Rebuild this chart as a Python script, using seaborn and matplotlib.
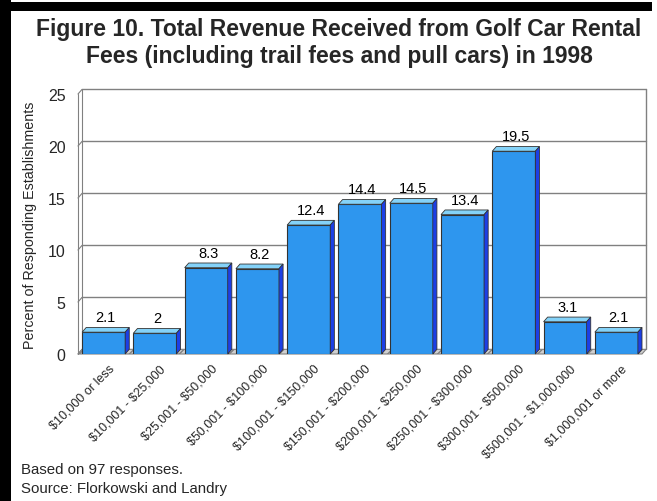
import matplotlib
matplotlib.use("Agg")
import matplotlib.pyplot as plt
from matplotlib.patches import Polygon, Rectangle
from matplotlib.transforms import ScaledTranslation
import seaborn as sns
import pandas as pd

categories = [
    "$10,000 or less", "$10,001 - $25,000", "$25,001 - $50,000",
    "$50,001 - $100,000", "$100,001 - $150,000", "$150,001 - $200,000",
    "$200,001 - $250,000", "$250,001 - $300,000", "$300,001 - $500,000",
    "$500,001 - $1,000,000", "$1,000,001 or more",
]
percents = [2.1, 2, 8.3, 8.2, 12.4, 14.4, 14.5, 13.4, 19.5, 3.1, 2.1]
value_labels = ["2.1", "2", "8.3", "8.2", "12.4", "14.4", "14.5", "13.4", "19.5", "3.1", "2.1"]
y_ticks = [0, 5, 10, 15, 20, 25]

df = pd.DataFrame({"range": categories, "pct": percents})

sns.set_style("white")
plt.rcParams["font.family"] = ["Liberation Sans", "DejaVu Sans"]
plt.rcParams["text.parse_math"] = False

W, H = 657, 502
fig = plt.figure(figsize=(W / 100, H / 100), dpi=100)
fig.patch.set_facecolor("white")

# frame bands along the top and left edges
fig.add_artist(Rectangle((0, 1 - 12 / H), 652 / W, 9 / H, transform=fig.transFigure,
                         facecolor="black", edgecolor="none"))
fig.add_artist(Rectangle((0, 0), 11 / W, 1, transform=fig.transFigure,
                         facecolor="black", edgecolor="none"))

ax_l, ax_r, ax_b, ax_t = 78, 642, 355, 95
ax = fig.add_axes([ax_l / W, 1 - ax_b / H, (ax_r - ax_l) / W, (ax_b - ax_t) / H])

front = "#2e96ee"
top_c = "#84d2f8"
side_c = "#1c3fe6"
edge = "#333333"

sns.barplot(data=df, x="range", y="pct", color=front, width=0.84, saturation=1,
            edgecolor=edge, linewidth=0.8, ax=ax, zorder=3)

ax.set_xlim(-0.5, 10.5)
ax.set_ylim(0, 25)

# depth offset of the 3-D look, in data units
dx, dy = 0.08, 0.45
grid_c = "#808080"

# back wall, floor and side wall
ax.plot([-0.5 + dx, 10.5 + dx], [25 + dy, 25 + dy], color=grid_c, lw=1, clip_on=False, zorder=1)
for t in y_ticks[1:-1]:
    ax.plot([-0.5 + dx, 10.5 + dx], [t + dy, t + dy], color=grid_c, lw=1, clip_on=False, zorder=1)
for t in y_ticks:
    ax.plot([-0.5, -0.5 + dx], [t, t + dy], color=grid_c, lw=0.8, clip_on=False, zorder=1)
ax.plot([10.5 + dx, 10.5 + dx], [dy, 25 + dy], color=grid_c, lw=1, clip_on=False, zorder=1)
ax.plot([-0.5 + dx, -0.5 + dx], [dy, 25 + dy], color=grid_c, lw=0.8, clip_on=False, zorder=1)
ax.plot([-0.5, -0.5], [0, 25], color=grid_c, lw=0.8, clip_on=False, zorder=1)
ax.add_patch(Polygon([(-0.5, 0), (10.5, 0), (10.5 + dx, dy), (-0.5 + dx, dy)],
                     closed=True, facecolor="#d0d0d0", edgecolor=grid_c, lw=0.8,
                     hatch="////", clip_on=False, zorder=2))

# top and side faces of each bar
for p, lab in zip(ax.patches, value_labels):
    x0 = p.get_x()
    w = p.get_width()
    h = p.get_height()
    x1 = x0 + w
    ax.add_patch(Polygon([(x0, h), (x1, h), (x1 + dx, h + dy), (x0 + dx, h + dy)],
                         closed=True, facecolor=top_c, edgecolor=edge, lw=0.6,
                         clip_on=False, zorder=4))
    ax.add_patch(Polygon([(x1, 0), (x1 + dx, dy), (x1 + dx, h + dy), (x1, h)],
                         closed=True, facecolor=side_c, edgecolor=edge, lw=0.6,
                         clip_on=False, zorder=4))
    ax.text(x0 + w / 2 + dx / 2, h + dy + 0.3, lab, ha="center", va="bottom",
            fontsize=10.5, color="black", zorder=5)

for s in ax.spines.values():
    s.set_visible(False)

ax.set_yticks(y_ticks)
ax.set_yticklabels([str(t) for t in y_ticks], fontsize=11.5)
ax.tick_params(axis="y", length=0, pad=9)
ax.tick_params(axis="x", length=0, pad=9)
ax.set_xticks(range(len(categories)))
ax.set_xticklabels(categories, rotation=45, ha="right", va="center",
                   rotation_mode="anchor", fontsize=9)
shift = ScaledTranslation(9 / 100, 0, fig.dpi_scale_trans)
for lbl in ax.get_xticklabels():
    lbl.set_transform(lbl.get_transform() + shift)
ax.set_xlabel("")
ax.set_ylabel("Percent of Responding Establishments", fontsize=10.3, labelpad=8)
ax.grid(False)

fig.text(339 / W, 1 - 30 / H, "Figure 10. Total Revenue Received from Golf Car Rental",
         ha="center", va="center", fontsize=16.5, fontweight="bold")
fig.text(339 / W, 1 - 57 / H, "Fees (including trail fees and pull cars) in 1998",
         ha="center", va="center", fontsize=16.5, fontweight="bold")

fig.text(21 / W, 1 - 470 / H, "Based on 97 responses.", ha="left", va="center", fontsize=10.8)
fig.text(21 / W, 1 - 489 / H, "Source: Florkowski and Landry", ha="left", va="center", fontsize=10.8)

fig.savefig("out.png", dpi=100, facecolor="white")
